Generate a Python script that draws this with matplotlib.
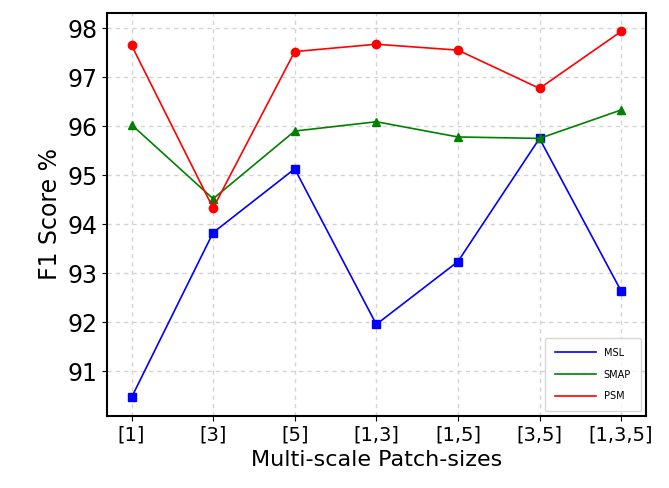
import matplotlib.pyplot as plt
from matplotlib.lines import Line2D
from matplotlib.ticker import MultipleLocator

patch_sizes = ['[1]', '[3]', '[5]', '[1,3]', '[1,5]', '[3,5]', '[1,3,5]']
msl = [90.47, 93.83, 95.13, 91.96, 93.24, 95.75, 92.64]
smap = [96.03, 94.52, 95.90, 96.09, 95.78, 95.75, 96.33]
psm = [97.65, 94.33, 97.52, 97.67, 97.55, 96.77, 97.93]

x = list(range(len(patch_sizes)))

fig, ax = plt.subplots(figsize=(6.69, 4.88), dpi=100)
ax.plot(x, msl, 'b-', marker='s', ms=6, lw=1.2)
ax.plot(x, smap, 'g-', marker='^', ms=6, lw=1.2)
ax.plot(x, psm, 'r-', marker='o', ms=6, lw=1.2)

ax.set_xticks(x)
ax.set_xticklabels(patch_sizes, fontsize=14)
ax.yaxis.set_major_locator(MultipleLocator(1))
ax.tick_params(axis='y', labelsize=17)
ax.set_xlabel('Multi-scale Patch-sizes', fontsize=16)
ax.set_ylabel('F1 Score %', fontsize=17)
ax.grid(True, linestyle=(0, (3, 3)), color='lightgray', lw=1)
for s in ax.spines.values():
    s.set_linewidth(1.5)

handles = [Line2D([], [], color='b', lw=1.2),
           Line2D([], [], color='g', lw=1.2),
           Line2D([], [], color='r', lw=1.2)]
ax.legend(handles, ['MSL', 'SMAP', 'PSM'], loc='lower right', fontsize=7,
          borderpad=1.0, handlelength=4.2, labelspacing=1.2)

plt.subplots_adjust(left=0.16, right=0.965, top=0.973, bottom=0.148)
plt.savefig('out.png')
